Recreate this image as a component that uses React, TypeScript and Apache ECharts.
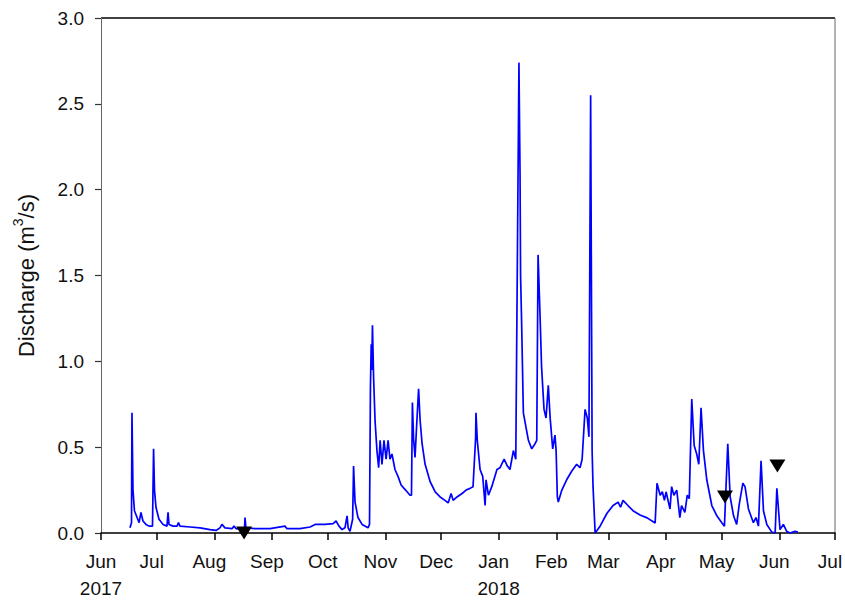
import { useEffect, useRef } from "react"
import * as echarts from "echarts"

// discharge record
const times = [
    "2017-06-16 14:00", "2017-06-17 10:00", "2017-06-17 16:00", "2017-06-18 05:00", "2017-06-19 00:00",
    "2017-06-20 10:00", "2017-06-21 12:00", "2017-06-22 12:00", "2017-06-23 14:00", "2017-06-25 05:00",
    "2017-06-26 20:00", "2017-06-28 17:00", "2017-06-29 07:00", "2017-06-29 19:00", "2017-06-30 14:00",
    "2017-07-02 05:00", "2017-07-04 10:00", "2017-07-06 12:00", "2017-07-07 02:00", "2017-07-07 14:00",
    "2017-07-09 19:00", "2017-07-11 22:00", "2017-07-12 17:00", "2017-07-13 12:00", "2017-07-18 22:00",
    "2017-07-24 07:00", "2017-07-29 17:00", "2017-08-01 22:00", "2017-08-04 00:00", "2017-08-05 02:00",
    "2017-08-06 17:00", "2017-08-10 12:00", "2017-08-11 14:00", "2017-08-12 17:00", "2017-08-17 05:00",
    "2017-08-17 12:00", "2017-08-18 00:00", "2017-08-22 22:00", "2017-08-31 00:00", "2017-09-08 00:00",
    "2017-09-09 02:00", "2017-09-16 02:00", "2017-09-21 12:00", "2017-09-24 05:00", "2017-09-29 14:00",
    "2017-10-03 22:00", "2017-10-05 12:00", "2017-10-07 02:00", "2017-10-08 17:00", "2017-10-10 07:00",
    "2017-10-11 10:00", "2017-10-12 00:00", "2017-10-13 00:00", "2017-10-14 10:00", "2017-10-14 22:00",
    "2017-10-15 17:00", "2017-10-17 07:00", "2017-10-19 12:00", "2017-10-22 17:00", "2017-10-23 12:00",
    "2017-10-24 00:00", "2017-10-24 10:00", "2017-10-24 17:00", "2017-10-25 02:00", "2017-10-25 17:00",
    "2017-10-26 12:00", "2017-10-27 12:00", "2017-10-28 10:00", "2017-10-29 05:00", "2017-10-30 05:00",
    "2017-10-31 07:00", "2017-11-01 10:00", "2017-11-02 12:00", "2017-11-03 12:00", "2017-11-04 14:00",
    "2017-11-06 05:00", "2017-11-07 20:00", "2017-11-09 12:00", "2017-11-11 02:00", "2017-11-12 17:00",
    "2017-11-14 07:00", "2017-11-15 02:00", "2017-11-15 14:00", "2017-11-16 05:00", "2017-11-17 00:00",
    "2017-11-17 20:00", "2017-11-18 22:00", "2017-11-19 17:00", "2017-11-20 19:00", "2017-11-22 10:00",
    "2017-11-25 02:00", "2017-11-27 20:00", "2017-11-30 12:00", "2017-12-03 02:00", "2017-12-04 20:00",
    "2017-12-06 10:00", "2017-12-07 12:00", "2017-12-09 14:00", "2017-12-12 07:00", "2017-12-14 12:00",
    "2017-12-16 14:00", "2017-12-18 05:00", "2017-12-19 14:00", "2017-12-19 19:00", "2017-12-20 12:00",
    "2017-12-22 00:00", "2017-12-23 10:00", "2017-12-24 17:00", "2017-12-25 05:00", "2017-12-26 12:00",
    "2017-12-28 07:00", "2017-12-31 02:00", "2018-01-01 17:00", "2018-01-03 22:00", "2018-01-05 17:00",
    "2018-01-07 02:00", "2018-01-08 22:00", "2018-01-10 05:00", "2018-01-11 02:00", "2018-01-11 22:00",
    "2018-01-12 12:00", "2018-01-12 19:00", "2018-01-13 07:00", "2018-01-14 07:00", "2018-01-17 00:00",
    "2018-01-18 19:00", "2018-01-20 14:00", "2018-01-21 12:00", "2018-01-22 05:00", "2018-01-23 07:00",
    "2018-01-24 02:00", "2018-01-25 10:00", "2018-01-26 12:00", "2018-01-27 17:00", "2018-01-28 17:00",
    "2018-01-30 02:00", "2018-01-31 07:00", "2018-01-31 22:00", "2018-02-01 14:00", "2018-02-02 02:00",
    "2018-02-04 00:00", "2018-02-06 14:00", "2018-02-09 07:00", "2018-02-12 00:00", "2018-02-13 19:00",
    "2018-02-14 22:00", "2018-02-16 12:00", "2018-02-17 17:00", "2018-02-18 14:00", "2018-02-19 12:00",
    "2018-02-20 07:00", "2018-02-20 19:00", "2018-02-21 22:00", "2018-02-24 14:00", "2018-02-28 07:00",
    "2018-03-03 14:00", "2018-03-06 07:00", "2018-03-07 14:00", "2018-03-08 22:00", "2018-03-11 14:00",
    "2018-03-14 07:00", "2018-03-18 02:00", "2018-03-21 22:00", "2018-03-26 05:00", "2018-03-27 05:00",
    "2018-03-28 22:00", "2018-03-30 02:00", "2018-03-31 05:00", "2018-04-01 02:00", "2018-04-03 05:00",
    "2018-04-04 02:00", "2018-04-05 07:00", "2018-04-06 20:00", "2018-04-08 12:00", "2018-04-09 10:00",
    "2018-04-11 05:00", "2018-04-12 12:00", "2018-04-13 14:00", "2018-04-14 22:00", "2018-04-16 05:00",
    "2018-04-17 14:00", "2018-04-18 17:00", "2018-04-19 22:00", "2018-04-21 05:00", "2018-04-23 00:00",
    "2018-04-25 17:00", "2018-04-28 10:00", "2018-05-01 02:00", "2018-05-02 12:00", "2018-05-04 07:00",
    "2018-05-05 14:00", "2018-05-07 10:00", "2018-05-09 02:00", "2018-05-10 12:00", "2018-05-12 10:00",
    "2018-05-13 14:00", "2018-05-15 10:00", "2018-05-18 02:00", "2018-05-19 12:00", "2018-05-20 19:00",
    "2018-05-22 05:00", "2018-05-23 12:00", "2018-05-25 07:00", "2018-05-28 00:00", "2018-05-29 19:00",
    "2018-05-30 17:00", "2018-06-01 10:00", "2018-06-03 05:00", "2018-06-05 00:00", "2018-06-06 19:00",
    "2018-06-09 12:00", "2018-06-11 02:00",
]

const discharge = [
    0.03, 0.06, 0.70, 0.25, 0.13,
    0.09, 0.06, 0.12, 0.07, 0.05,
    0.04, 0.04, 0.49, 0.25, 0.15,
    0.08, 0.05, 0.04, 0.12, 0.05,
    0.04, 0.04, 0.06, 0.04, 0.035,
    0.03, 0.02, 0.015, 0.03, 0.05,
    0.03, 0.025, 0.04, 0.025, 0.02,
    0.09, 0.03, 0.025, 0.025, 0.04,
    0.025, 0.025, 0.035, 0.05, 0.05,
    0.055, 0.07, 0.04, 0.02, 0.03,
    0.10, 0.03, 0.01, 0.08, 0.39,
    0.18, 0.09, 0.05, 0.03, 0.05,
    0.85, 1.10, 0.95, 1.21, 0.90,
    0.65, 0.48, 0.38, 0.54, 0.40,
    0.54, 0.43, 0.54, 0.43, 0.46,
    0.37, 0.33, 0.28, 0.26, 0.24,
    0.22, 0.22, 0.76, 0.55, 0.44,
    0.62, 0.84, 0.66, 0.52, 0.40,
    0.30, 0.24, 0.21, 0.19, 0.175,
    0.23, 0.19, 0.21, 0.23, 0.25,
    0.26, 0.27, 0.55, 0.70, 0.54,
    0.37, 0.33, 0.16, 0.31, 0.22,
    0.27, 0.37, 0.38, 0.43, 0.39,
    0.37, 0.48, 0.43, 1.61, 2.74,
    2.10, 1.50, 1.26, 0.70, 0.54,
    0.49, 0.52, 0.54, 1.62, 1.26,
    0.97, 0.72, 0.67, 0.86, 0.67,
    0.49, 0.57, 0.48, 0.21, 0.18,
    0.25, 0.31, 0.36, 0.40, 0.38,
    0.43, 0.72, 0.67, 0.56, 2.55,
    0.48, 0.27, 0.0, 0.04, 0.115,
    0.16, 0.18, 0.15, 0.19, 0.16,
    0.13, 0.105, 0.088, 0.058, 0.29,
    0.22, 0.24, 0.19, 0.24, 0.14,
    0.27, 0.22, 0.25, 0.09, 0.16,
    0.12, 0.22, 0.20, 0.78, 0.51,
    0.46, 0.40, 0.73, 0.48, 0.31,
    0.16, 0.10, 0.06, 0.04, 0.52,
    0.21, 0.10, 0.05, 0.17, 0.29,
    0.27, 0.14, 0.06, 0.09, 0.04,
    0.42, 0.13, 0.05, 0.005, 0.0,
    0.26, 0.02, 0.05, 0.01, 0.0,
    0.01, 0.005,
]

// sampling dates marked with triangles
const markTimes = ["2017-08-17 00:00", "2018-05-02 19:00", "2018-05-31 00:00"]
const markValues = [0.0, 0.21, 0.39]

const monthNames = ["Jan", "Feb", "Mar", "Apr", "May", "Jun", "Jul", "Aug", "Sep", "Oct", "Nov", "Dec"]
const yearLabelled = ["2017-06", "2018-01"]

const font = "'Liberation Sans', Arial, sans-serif"

export default function App() {
    const chartRef = useRef<HTMLDivElement>(null)

    useEffect(() => {
        if (!chartRef.current) return
        const chart = echarts.init(chartRef.current, null, { renderer: "svg" })

        const labelStyle = { fontSize: 19, fontFamily: font, color: "#111", lineHeight: 27 }

        const option = {
            animation: false,
            grid: { left: 101, right: 10, top: 18, bottom: 69, outerBoundsMode: "none", containLabel: false },
            xAxis: {
                type: "time",
                min: "2017-06-01 00:00",
                max: "2018-07-01 00:00",
                minInterval: 28 * 86400000,
                maxInterval: 31 * 86400000,
                splitNumber: 13,
                splitLine: { show: false },
                axisLine: { lineStyle: { color: "#000", width: 1.5 } },
                axisTick: { show: true, inside: false, length: 7, lineStyle: { color: "#000", width: 1.5 } },
                axisLabel: {
                    show: true,
                    showMinLabel: true,
                    showMaxLabel: true,
                    hideOverlap: false,
                    margin: 15,
                    align: "center",
                    ...labelStyle,
                    rich: {
                        m: { ...labelStyle, padding: [0, 10, 0, 0] },
                        f: { ...labelStyle },
                    },
                    formatter: (value: number) => {
                        const d = new Date(value)
                        const key = d.getFullYear() + "-" + String(d.getMonth() + 1).padStart(2, "0")
                        const name = monthNames[d.getMonth()]
                        const tag = key === "2017-06" ? "f" : "m"
                        return yearLabelled.includes(key)
                            ? "{" + tag + "|" + name + "}\n{f|" + d.getFullYear() + "}"
                            : "{" + tag + "|" + name + "}"
                    },
                },
            },
            yAxis: {
                type: "value",
                min: 0,
                max: 3,
                interval: 0.5,
                name: "{n|Discharge (m}{s|3}{n|/s)}",
                nameLocation: "middle",
                nameGap: 64,
                nameTextStyle: {
                    fontSize: 22,
                    fontFamily: font,
                    color: "#111",
                    rich: {
                        n: { fontSize: 22, fontFamily: font, color: "#111", lineHeight: 26, verticalAlign: "bottom" },
                        s: { fontSize: 14, fontFamily: font, color: "#111", lineHeight: 26, verticalAlign: "top", padding: [0, 0, 10, 0] },
                    },
                },
                splitLine: { show: false },
                axisLine: { show: true, lineStyle: { color: "#666", width: 1 } },
                axisTick: { show: true, inside: false, length: 6, lineStyle: { color: "#333", width: 1.2 } },
                axisLabel: {
                    margin: 17,
                    color: "#111",
                    fontSize: 19,
                    fontFamily: font,
                    formatter: (v: number) => v.toFixed(1),
                },
            },
            series: [
                {
                    type: "line",
                    data: times.map((t, i) => [t, discharge[i]]),
                    showSymbol: false,
                    lineStyle: { color: "#0000ff", width: 1.7 },
                    itemStyle: { color: "#0000ff" },
                    z: 2,
                },
                {
                    type: "scatter",
                    data: markTimes.map((t, i) => [t, markValues[i]]),
                    symbol: "triangle",
                    symbolRotate: 180,
                    symbolSize: [16, 13],
                    clip: false,
                    itemStyle: { color: "#000", opacity: 1 },
                    z: 3,
                },
            ],
            graphic: [
                // top and right frame lines
                {
                    type: "line",
                    shape: { x1: 101, y1: 18, x2: 835, y2: 18 },
                    style: { stroke: "#000", lineWidth: 1.5 },
                },
                {
                    type: "line",
                    shape: { x1: 835, y1: 18, x2: 835, y2: 533 },
                    style: { stroke: "#666", lineWidth: 1 },
                },
            ],
        }

        chart.setOption(option)
        return () => {
            chart.dispose()
        }
    }, [])

    return (
        <div
            ref={chartRef}
            style={{ position: "absolute", left: 0, top: 0, width: 845, height: 602, background: "#fff" }}
        />
    )
}
